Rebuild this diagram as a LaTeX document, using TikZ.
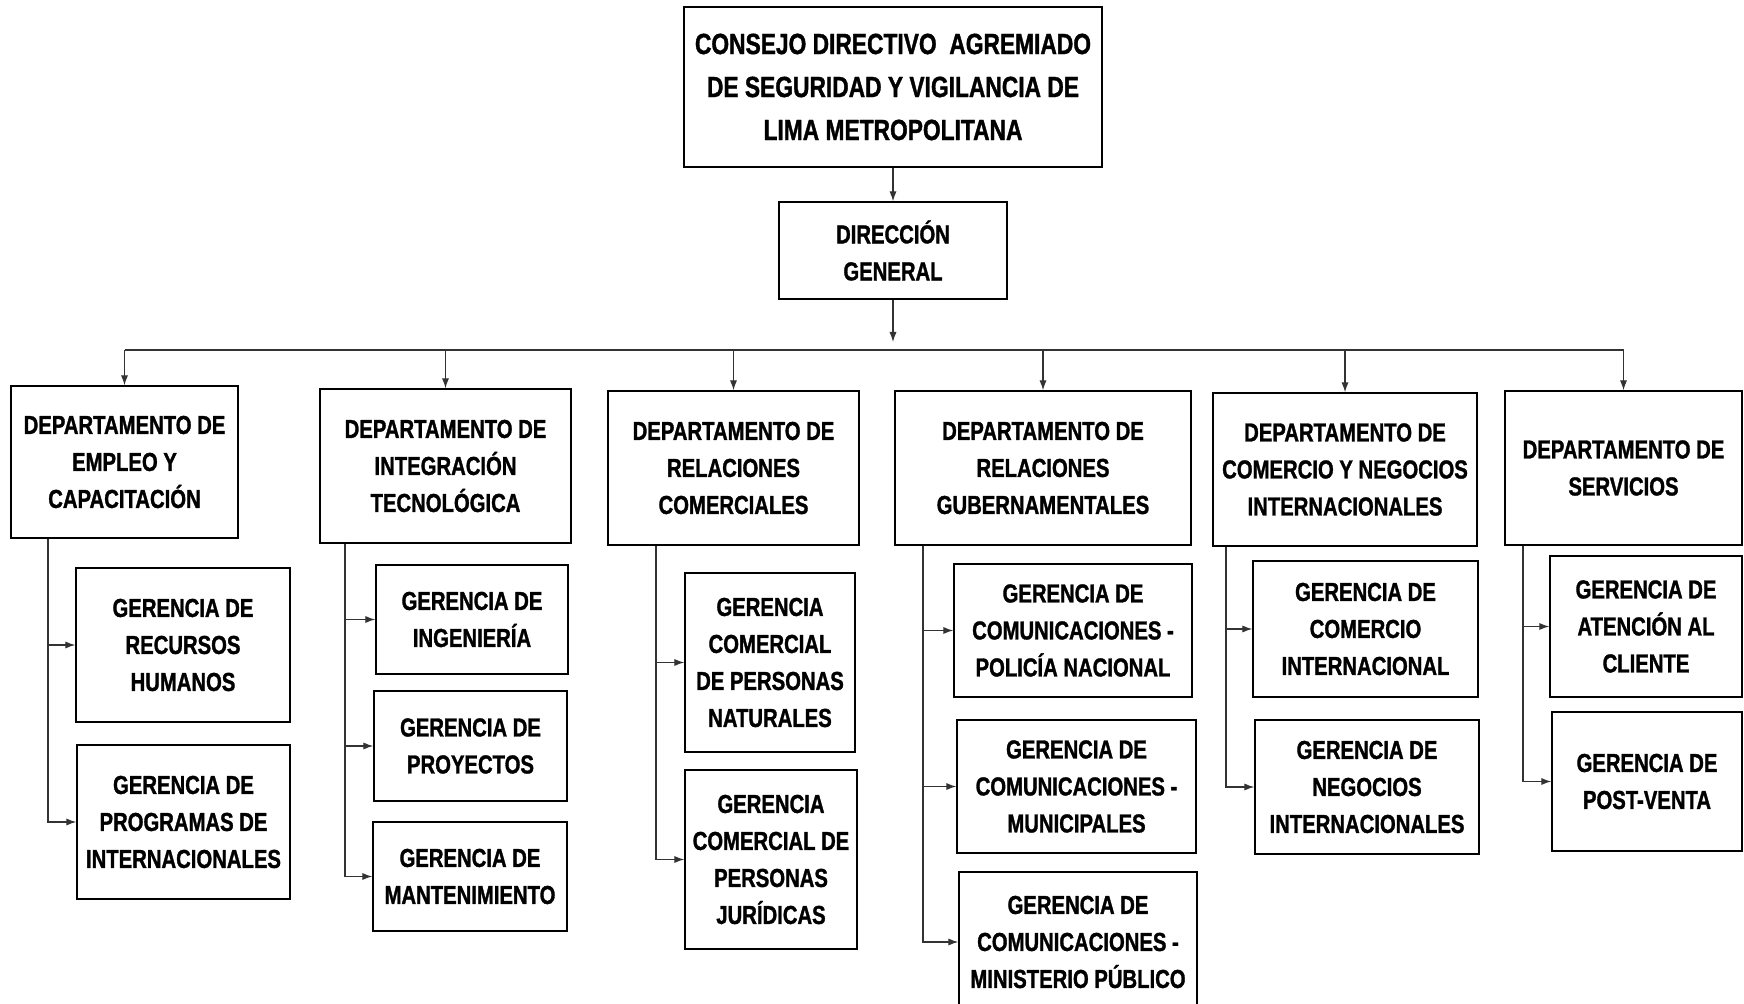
\documentclass[tikz,border=0pt]{standalone}
\usepackage{fontspec}
\setmainfont{Liberation Sans}[FakeStretch=0.78, BoldFeatures={FakeBold=1.2}]
\usetikzlibrary{arrows.meta}
\begin{document}
\begin{tikzpicture}[x=0.5pt, y=-0.5pt,
		caja/.style = {draw, line width=0.7pt, align=center, inner sep=0pt, font=\bfseries\fontsize{13}{18.5}\selectfont},
		flecha/.style = {draw=black!80, line width=0.6pt, -{Latex[length=5pt,width=3.6pt]}},
		linea/.style = {draw=black!80, line width=0.6pt}]
		\useasboundingbox (0,0) rectangle (1744,1004);
		
		\node[caja, minimum width=209pt, minimum height=80pt, font=\bfseries\fontsize{14.6}{21.5}\selectfont] (cd) at (893,87) {CONSEJO DIRECTIVO\ \ AGREMIADO\\DE SEGURIDAD Y VIGILANCIA DE\\LIMA METROPOLITANA};
		\node[caja, minimum width=114pt, minimum height=48.5pt] (dg) at (893,250.5) {DIRECCIÓN\\GENERAL};
		
		\node[caja, minimum width=113.5pt, minimum height=76pt] (d1) at (124.5,462) {DEPARTAMENTO DE\\EMPLEO Y\\CAPACITACIÓN};
		\node[caja, minimum width=125.5pt, minimum height=77pt] (d2) at (445.5,466) {DEPARTAMENTO DE\\INTEGRACIÓN\\TECNOLÓGICA};
		\node[caja, minimum width=125.5pt, minimum height=77pt] (d3) at (733.5,468) {DEPARTAMENTO DE\\RELACIONES\\COMERCIALES};
		\node[caja, minimum width=148pt, minimum height=77pt] (d4) at (1043,468) {DEPARTAMENTO DE\\RELACIONES\\GUBERNAMENTALES};
		\node[caja, minimum width=132pt, minimum height=76.5pt] (d5) at (1345,469.5) {DEPARTAMENTO DE\\COMERCIO Y NEGOCIOS\\INTERNACIONALES};
		\node[caja, minimum width=118.5pt, minimum height=77pt] (d6) at (1623.5,468) {DEPARTAMENTO DE\\SERVICIOS};
		
		\node[caja, minimum width=107pt, minimum height=77pt] (g11) at (183,645) {GERENCIA DE\\RECURSOS\\HUMANOS};
		\node[caja, minimum width=106.5pt, minimum height=77pt] (g12) at (183.5,822) {GERENCIA DE\\PROGRAMAS DE\\INTERNACIONALES};
		
		\node[caja, minimum width=96pt, minimum height=54.5pt] (g21) at (472,619.5) {GERENCIA DE\\INGENIERÍA};
		\node[caja, minimum width=96.5pt, minimum height=55pt] (g22) at (470.5,746) {GERENCIA DE\\PROYECTOS};
		\node[caja, minimum width=97pt, minimum height=54.5pt] (g23) at (470,876.5) {GERENCIA DE\\MANTENIMIENTO};
		
		\node[caja, minimum width=85pt, minimum height=89.5pt] (g31) at (770,662.5) {GERENCIA\\COMERCIAL\\DE PERSONAS\\NATURALES};
		\node[caja, minimum width=86pt, minimum height=89.5pt] (g32) at (771,859.5) {GERENCIA\\COMERCIAL DE\\PERSONAS\\JURÍDICAS};
		
		\node[caja, minimum width=119pt, minimum height=66.5pt] (g41) at (1073,630.5) {GERENCIA DE\\COMUNICACIONES -\\POLICÍA NACIONAL};
		\node[caja, minimum width=119.5pt, minimum height=66.5pt] (g42) at (1076.5,786.5) {GERENCIA DE\\COMUNICACIONES -\\MUNICIPALES};
		\node[caja, minimum width=119pt, minimum height=70pt] (g43) at (1078,942) {GERENCIA DE\\COMUNICACIONES -\\MINISTERIO PÚBLICO};
		
		\node[caja, minimum width=112.5pt, minimum height=68pt] (g51) at (1365.5,629) {GERENCIA DE\\COMERCIO\\INTERNACIONAL};
		\node[caja, minimum width=112pt, minimum height=67pt] (g52) at (1367,787) {GERENCIA DE\\NEGOCIOS\\INTERNACIONALES};
		
		\node[caja, minimum width=96pt, minimum height=70.5pt] (g61) at (1646,626.5) {GERENCIA DE\\ATENCIÓN AL\\CLIENTE};
		\node[caja, minimum width=95pt, minimum height=69.5pt] (g62) at (1647,781.5) {GERENCIA DE\\POST-VENTA};
		
		% linea horizontal y bajadas
		\coordinate (bus) at (0,350);
		\draw[flecha] (cd) -- (dg);
		\draw[flecha] (dg) -- ([yshift=4pt]dg.south |- bus);
		\draw[linea] (d1.north |- bus) -- (d6.north |- bus);
		\foreach \d in {d1,d2,d3,d4,d5,d6}
			\draw[flecha] (\d.north |- bus) -- (\d.north);
		
		% columnas
		\coordinate (k1) at (48,0);
		\coordinate (k2) at (345,0);
		\coordinate (k3) at (656,0);
		\coordinate (k4) at (923,0);
		\coordinate (k5) at (1226,0);
		\coordinate (k6) at (1523,0);
		\draw[flecha] (d1.south -| k1) |- (g11.west);
		\draw[flecha] (d1.south -| k1) |- (g12.west);
		\draw[flecha] (d2.south -| k2) |- (g21.west);
		\draw[flecha] (d2.south -| k2) |- (g22.west);
		\draw[flecha] (d2.south -| k2) |- (g23.west);
		\draw[flecha] (d3.south -| k3) |- (g31.west);
		\draw[flecha] (d3.south -| k3) |- (g32.west);
		\draw[flecha] (d4.south -| k4) |- (g41.west);
		\draw[flecha] (d4.south -| k4) |- (g42.west);
		\draw[flecha] (d4.south -| k4) |- (g43.west);
		\draw[flecha] (d5.south -| k5) |- (g51.west);
		\draw[flecha] (d5.south -| k5) |- (g52.west);
		\draw[flecha] (d6.south -| k6) |- (g61.west);
		\draw[flecha] (d6.south -| k6) |- (g62.west);
\end{tikzpicture}
\end{document}
